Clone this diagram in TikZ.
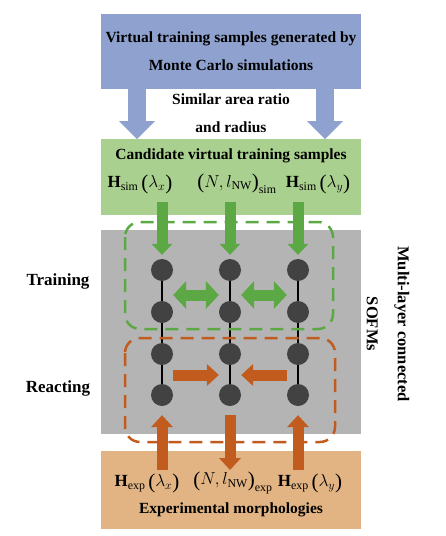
\documentclass[tikz,border=0pt]{standalone}
\usepackage{amsmath,amssymb}
\usepackage{fontspec}
\setmainfont{Liberation Serif}
\usetikzlibrary{arrows.meta,calc}
\definecolor{simblue}{HTML}{8FA2CF}
\definecolor{candgreen}{HTML}{A9D08E}
\definecolor{sofmgray}{HTML}{B4B4B4}
\definecolor{expsand}{HTML}{E2B483}
\definecolor{arrgreen}{HTML}{5BA845}
\definecolor{arrorange}{HTML}{C25B1E}
\definecolor{neurongray}{HTML}{424242}
% tall parentheses taken from the text font
\newcommand{\tallpar}[1]{\mathopen{\text{\raisebox{-1.5pt}{\fontsize{21}{21}\selectfont(}}}#1\mathclose{\text{\raisebox{-1.5pt}{\fontsize{21}{21}\selectfont)}}}}
\tikzset{
	panel/.style={minimum width=260pt, inner sep=0pt, outer sep=0pt},
	lbl/.style={font=\bfseries\fontsize{15.5}{28}\selectfont, align=center, inner sep=1pt},
	title/.style={font=\bfseries\fontsize{15.5}{17}\selectfont, inner sep=0pt},
	formula/.style={font=\fontsize{17}{20}\selectfont, inner sep=0pt},
	neuron/.style={circle, fill=neurongray, minimum size=22pt, inner sep=0pt},
	simarrow/.style={draw=simblue, line width=18pt, -{Triangle[length=18pt,width=36pt,line width=0pt]}},
	garrow/.style={draw=arrgreen, line width=11pt, -{Triangle[length=11pt,width=21pt,line width=0pt]}},
	gdouble/.style={draw=arrgreen, line width=11pt,
			{Triangle[length=13pt,width=28pt,line width=0pt]}-{Triangle[length=13pt,width=28pt,line width=0pt]}},
	oarrow/.style={draw=arrorange, line width=11pt, -{Triangle[length=12pt,width=22pt,line width=0pt]}},
	zone/.style={line width=2.5pt, dash pattern=on 13pt off 8pt, rounded corners=15pt}
}

\begin{document}
\begin{tikzpicture}[x=1pt,y=-1pt]
		\useasboundingbox (0,0) rectangle (445,536);

		% panels
		\node[panel, fill=simblue, minimum height=75pt, lbl, inner sep=0pt] (sim) at (231,51.5) {Virtual training samples generated by\\Monte Carlo simulations};
		\node[panel, fill=candgreen, minimum height=76pt] (cand) at (231,177) {};
		\node[panel, fill=sofmgray, minimum height=204pt] (sofm) at (231,332) {};
		\node[panel, fill=expsand, minimum height=78pt] (exp) at (231,490) {};

		\draw[simarrow] (sim.south -| 137,0) to (cand.north -| 137,0);
		\draw[simarrow] (sim.south -| 325,0) to (cand.north -| 325,0);
		\node[lbl] (ratio) at (231,113) {Similar area ratio\\and radius};

		\node[title] (candtitle) at (231,156) {Candidate virtual training samples};
		\node[formula] (simx) at (140,184) {$\mathbf{H}_{\mathrm{sim}}\,\tallpar{\lambda_x}$};
		\node[formula] (simn) at (237,184) {$\tallpar{N,l_{\mathrm{NW}}}_{\mathrm{sim}}$};
		\node[formula] (simy) at (318,184) {$\mathbf{H}_{\mathrm{sim}}\,\tallpar{\lambda_y}$};

		\node[formula] (expx) at (147,483) {$\mathbf{H}_{\mathrm{exp}}\,\tallpar{\lambda_x}$};
		\node[formula] (expn) at (233,483) {$\tallpar{N,l_{\mathrm{NW}}}_{\mathrm{exp}}$};
		\node[formula] (expy) at (310,483) {$\mathbf{H}_{\mathrm{exp}}\,\tallpar{\lambda_y}$};
		\node[title] (exptitle) at (231,510) {Experimental morphologies};

		% layered maps
		\foreach \c/\x in {1/162,2/230,3/298} {
			\foreach \r/\y in {1/270,2/312,3/354,4/395}
				\node[neuron] (n\c\r) at (\x,\y) {};
			\draw[line width=1.2pt] (n\c1) -- (n\c2) -- (n\c3) -- (n\c4);
			\draw[garrow, shorten >=4pt] (n\c1 |- 0,202) to (n\c1.north);
		}

		\draw[zone, draw=arrgreen] (125,222) rectangle (333,329);
		\draw[zone, draw=arrorange] (125,338) rectangle (335,442);

		\draw[gdouble] (n11.east |- 0,295) to (n21.west |- 0,295);
		\draw[gdouble] (n21.east |- 0,295) to (n31.west |- 0,295);
		\draw[oarrow] (n13.east |- 0,375) to (n23.west |- 0,375);
		\draw[oarrow] (n33.west |- 0,375) to (n23.east |- 0,375);

		\draw[oarrow, shorten >=9pt] (n14 |- 0,470) to (n14.south);
		\draw[oarrow, shorten >=9pt] (n34 |- 0,470) to (n34.south);
		\draw[oarrow, shorten <=9pt] (n24.south) to (n24 |- 0,470);

		\node[lbl, font=\bfseries\fontsize{17}{20}\selectfont] (train) at (58,281) {Training};
		\node[lbl, font=\bfseries\fontsize{17}{20}\selectfont] (react) at (58,388) {Reacting};
		\node[lbl, font=\bfseries\fontsize{16.5}{31}\selectfont, rotate=-90] (layers) at (388,324) {Multi-layer connected\\SOFMs};
	\end{tikzpicture}
\end{document}
